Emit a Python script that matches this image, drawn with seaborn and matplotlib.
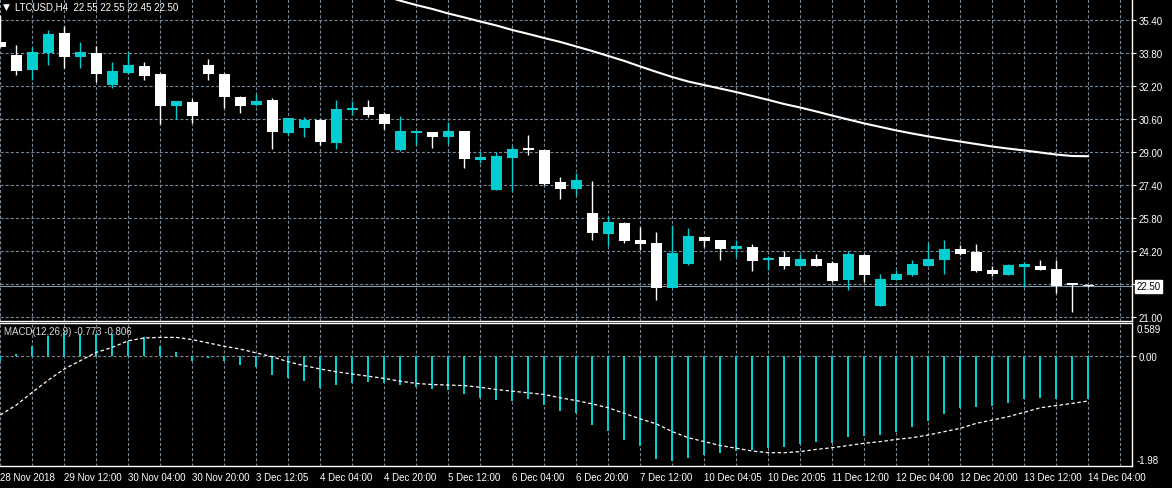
import matplotlib
matplotlib.use('Agg')
import matplotlib.pyplot as plt
from matplotlib.ticker import MultipleLocator
import seaborn as sns
import numpy as np
import pandas as pd

# LTCUSD H4 candles (bar 0 = 28 Nov 2018)
opens = [34.33, 33.72, 32.99, 33.81, 34.78, 33.62, 33.81, 32.26, 32.84, 33.18,
         32.80, 31.25, 31.44, 33.23, 32.80, 31.67, 31.30, 31.54, 29.94, 30.18,
         30.57, 29.45, 31.05, 31.20, 30.86, 29.11, 29.94, 29.98, 29.74, 30.03,
         28.63, 27.17, 28.72, 29.21, 29.11, 27.56, 27.22, 26.06, 25.04, 25.57,
         24.75, 24.60, 22.42, 23.58, 24.89, 24.75, 24.31, 24.41, 23.80, 23.92,
         23.49, 23.83, 23.63, 22.81, 24.02, 21.55, 22.81, 23.05, 23.49, 23.78,
         24.31, 24.17, 23.29, 23.05, 23.44, 23.49, 23.34, 22.66, 22.55]
highs = [35.66, 34.20, 34.09, 34.93, 35.12, 34.35, 34.14, 33.38, 33.85, 33.38,
         32.84, 31.50, 31.58, 33.52, 32.84, 31.73, 31.83, 31.63, 30.68, 30.71,
         30.61, 31.54, 31.49, 31.54, 30.94, 30.76, 30.05, 30.00, 30.47, 30.05,
         29.01, 29.01, 29.31, 29.84, 29.13, 27.80, 27.99, 27.61, 25.91, 25.62,
         25.38, 25.14, 25.48, 25.33, 24.91, 24.77, 24.75, 24.55, 23.97, 24.21,
         24.07, 24.07, 23.73, 24.21, 24.07, 23.10, 23.29, 23.78, 24.60, 24.75,
         24.51, 24.55, 23.49, 23.58, 23.68, 23.78, 23.78, 22.68, 22.55]
lows = [34.12, 32.75, 32.52, 33.25, 33.09, 33.09, 32.39, 32.12, 32.80, 32.52,
        30.37, 30.60, 30.42, 32.52, 31.13, 30.91, 31.25, 29.16, 29.84, 29.74,
        29.35, 29.16, 30.81, 30.71, 30.13, 29.08, 29.35, 29.21, 29.40, 28.24,
        28.48, 27.15, 27.12, 28.87, 27.41, 26.74, 26.93, 24.75, 24.46, 24.60,
        24.26, 21.85, 22.40, 23.56, 24.41, 23.78, 23.92, 23.24, 23.29, 23.34,
        23.47, 23.47, 22.71, 22.33, 22.71, 21.53, 22.79, 23.00, 23.47, 23.10,
        24.02, 23.20, 23.00, 23.03, 22.47, 23.27, 22.18, 21.26, 22.45]
closes = [34.12, 32.94, 33.86, 34.74, 33.64, 33.86, 32.80, 32.94, 33.23, 32.70,
          31.25, 31.49, 30.76, 32.80, 31.67, 31.25, 31.49, 29.98, 30.66, 30.57,
          29.50, 31.10, 31.15, 30.81, 30.37, 30.03, 30.03, 29.74, 30.03, 28.67,
          28.77, 28.82, 29.16, 29.11, 27.46, 27.22, 27.66, 25.09, 25.62, 24.70,
          24.55, 22.42, 24.12, 24.94, 24.70, 24.31, 24.46, 23.73, 23.85, 23.49,
          23.83, 23.49, 22.76, 24.07, 23.05, 22.86, 23.10, 23.58, 23.83, 24.31,
          24.07, 23.24, 23.10, 23.54, 23.58, 23.29, 22.52, 22.55, 22.50]

# moving average, visible from bar 24 on
ma_start = 24
ma = [36.58, 36.35, 36.14, 35.95, 35.73, 35.54, 35.34, 35.15, 34.93, 34.74,
      34.54, 34.35, 34.13, 33.91, 33.67, 33.43, 33.16, 32.90, 32.65, 32.43,
      32.26, 32.09, 31.92, 31.73, 31.54, 31.34, 31.17, 30.98, 30.78, 30.59,
      30.40, 30.23, 30.06, 29.91, 29.77, 29.64, 29.52, 29.40, 29.28, 29.18,
      29.09, 28.99, 28.89, 28.82, 28.81]

# MACD(12,26,9): main (histogram) and signal
macd = [-0.08, 0.04, 0.19, 0.37, 0.43, 0.40, 0.40, 0.40, 0.28, 0.34,
        0.19, 0.08, -0.08, -0.03, -0.08, -0.15, -0.19, -0.33, -0.39, -0.44,
        -0.57, -0.51, -0.48, -0.46, -0.49, -0.52, -0.55, -0.59, -0.60, -0.68,
        -0.75, -0.79, -0.80, -0.77, -0.88, -0.99, -1.02, -1.24, -1.35, -1.51,
        -1.62, -1.86, -1.89, -1.84, -1.78, -1.75, -1.71, -1.69, -1.66, -1.64,
        -1.59, -1.55, -1.57, -1.46, -1.44, -1.42, -1.37, -1.28, -1.17, -1.04,
        -0.94, -0.92, -0.90, -0.84, -0.77, -0.75, -0.77, -0.79, -0.773]
signal = [-1.06, -0.88, -0.65, -0.43, -0.23, -0.08, 0.07, 0.16, 0.28, 0.33,
          0.34, 0.34, 0.30, 0.24, 0.18, 0.13, 0.06, -0.01, -0.10, -0.17,
          -0.23, -0.28, -0.32, -0.36, -0.40, -0.45, -0.49, -0.51, -0.52, -0.53,
          -0.56, -0.60, -0.63, -0.66, -0.69, -0.75, -0.80, -0.86, -0.93, -1.03,
          -1.13, -1.22, -1.36, -1.47, -1.54, -1.61, -1.66, -1.71, -1.74, -1.74,
          -1.72, -1.68, -1.65, -1.61, -1.57, -1.54, -1.50, -1.47, -1.42, -1.36,
          -1.30, -1.21, -1.15, -1.09, -1.01, -0.93, -0.89, -0.85, -0.806]

time_labels = ['28 Nov 2018', '29 Nov 12:00', '30 Nov 04:00', '30 Nov 20:00',
               '3 Dec 12:05', '4 Dec 04:00', '4 Dec 20:00', '5 Dec 12:00',
               '6 Dec 04:00', '6 Dec 20:00', '7 Dec 12:00', '10 Dec 04:05',
               '10 Dec 20:05', '11 Dec 12:00', '12 Dec 04:00', '12 Dec 20:00',
               '13 Dec 12:00', '14 Dec 04:00']
price_ticks = [21.00, 22.60, 24.20, 25.80, 27.40, 29.00, 30.60, 32.20, 33.80, 35.40]
bid = 22.50

CYAN = '#00CED1'
GRID = '#778899'
DASH = (0, (2.2, 1.5))

sns.set_theme(style='dark', rc={'axes.facecolor': 'black', 'figure.facecolor': 'black',
                                'lines.scale_dashes': False})
plt.rcParams['font.family'] = ['Liberation Sans', 'DejaVu Sans']

W, H = 1172, 489
fig = plt.figure(figsize=(W / 100, H / 100), dpi=100)
fig.patch.set_facecolor('black')


def box(top, bottom, left=0, right=1132):
    return [left / W, 1 - bottom / H, (right - left) / W, (bottom - top) / H]


ax = fig.add_axes(box(0, 321.5))
ax2 = fig.add_axes(box(324, 467))

df = pd.DataFrame({'open': opens, 'high': highs, 'low': lows, 'close': closes})
df['i'] = np.arange(len(df))
colors = np.where(df['close'] > df['open'], CYAN, 'white')
x_lim = (-0.3 / 16, 1131.7 / 16)

# --- price window ---
ax.vlines(df['i'], df['low'], df['high'], colors=colors, lw=1.0, zorder=3)
body_lo = df[['open', 'close']].min(axis=1)
body_h = (df['close'] - df['open']).abs().clip(lower=0.06)
ax.bar(df['i'], body_h, bottom=body_lo, width=0.69, color=colors, linewidth=0, zorder=4)

sns.lineplot(x=np.arange(ma_start, ma_start + len(ma)), y=ma, ax=ax,
             color='white', lw=1.5, zorder=5)
ax.axhline(bid, color='#8c9aa8', lw=0.8, zorder=2)

ax.set_xlim(*x_lim)
ax.set_ylim(21 - 3.2 / 20.625, 21 + 318.3 / 20.625)
ax.set_yticks(price_ticks)
ax.set_yticklabels(['' if abs(v - 22.6) < 1e-6 else f'{v:.2f}' for v in price_ticks])
ax.yaxis.tick_right()
ax.xaxis.set_major_locator(MultipleLocator(4))
ax.xaxis.set_minor_locator(MultipleLocator(2))
ax.tick_params(axis='x', which='both', length=0, labelbottom=False)
ax.tick_params(axis='y', colors='white', length=3, width=0.8, labelsize=7, pad=2)
ax.grid(True, which='both', color=GRID, lw=0.8, linestyle=DASH)
ax.set_xlabel('')
ax.set_ylabel('')
for side in ['top', 'left']:
    ax.spines[side].set_visible(False)
for side in ['right', 'bottom']:
    ax.spines[side].set_color('white')
    ax.spines[side].set_linewidth(1)

ax.annotate(f'{bid:.2f}', xy=(1, bid), xycoords=ax.get_yaxis_transform(),
            xytext=(3.5, 0), textcoords='offset points', ha='left', va='center',
            fontsize=7, color='black',
            bbox=dict(boxstyle='square,pad=0.15', facecolor='white', edgecolor='white'))

# --- MACD window ---
idx = np.arange(len(macd))
sns.barplot(x=idx, y=macd, native_scale=True, width=0.13, color=CYAN, saturation=1,
            linewidth=0, errorbar=None, ax=ax2, zorder=3)
sns.lineplot(x=idx, y=signal, ax=ax2, color='white', lw=0.9, zorder=4)
ax2.lines[-1].set_linestyle((0, (2.5, 1.8)))

ax2.set_xlim(*x_lim)
ax2.set_ylim(-1.98, 0.60)
ax2.set_yticks([0])
ax2.set_yticklabels(['0.00'])
ax2.yaxis.tick_right()
ax2.set_xticks(np.arange(0, len(macd), 4))
ax2.set_xticklabels(time_labels)
ax2.xaxis.set_minor_locator(MultipleLocator(2))
plt.setp(ax2.get_xticklabels(), ha='left')
ax2.tick_params(axis='x', which='major', direction='out', length=3, width=0.8,
                colors='white', labelsize=7, pad=1.5)
ax2.tick_params(axis='x', which='minor', direction='in', length=3, width=0.8, colors='white')
ax2.tick_params(axis='y', colors='white', length=3, width=0.8, labelsize=7, pad=2)
ax2.grid(True, which='both', color=GRID, lw=0.8, linestyle=DASH)
ax2.set_xlabel('')
ax2.set_ylabel('')
ax2.spines['left'].set_visible(False)
for side in ['right', 'bottom', 'top']:
    ax2.spines[side].set_color('white')
    ax2.spines[side].set_linewidth(1)

ax2.annotate('0.589', xy=(1, 1), xycoords='axes fraction', xytext=(3.5, -1),
             textcoords='offset points', ha='left', va='top', fontsize=7, color='white')
ax2.annotate('-1.98', xy=(1, 0), xycoords='axes fraction', xytext=(3, 1),
             textcoords='offset points', ha='left', va='bottom', fontsize=7, color='white')

# --- header texts ---
fig.text(2.5 / W, 1 - 7 / H, '\u25BC', fontsize=6.5, color='white', va='center', ha='left',
         family=['DejaVu Sans'])
fig.text(15 / W, 1 - 7 / H,
         f'LTCUSD,H4  {opens[-1]:.2f} {highs[-1]:.2f} {lows[-1]:.2f} {closes[-1]:.2f}',
         fontsize=7, color='white', va='center', ha='left')
fig.text(4 / W, 1 - 332 / H, f'MACD(12,26,9) {macd[-1]:.3f} {signal[-1]:.3f}',
         fontsize=7, color='#d8d8d8', va='center', ha='left')

fig.savefig('out.png', dpi=100, facecolor='black')
